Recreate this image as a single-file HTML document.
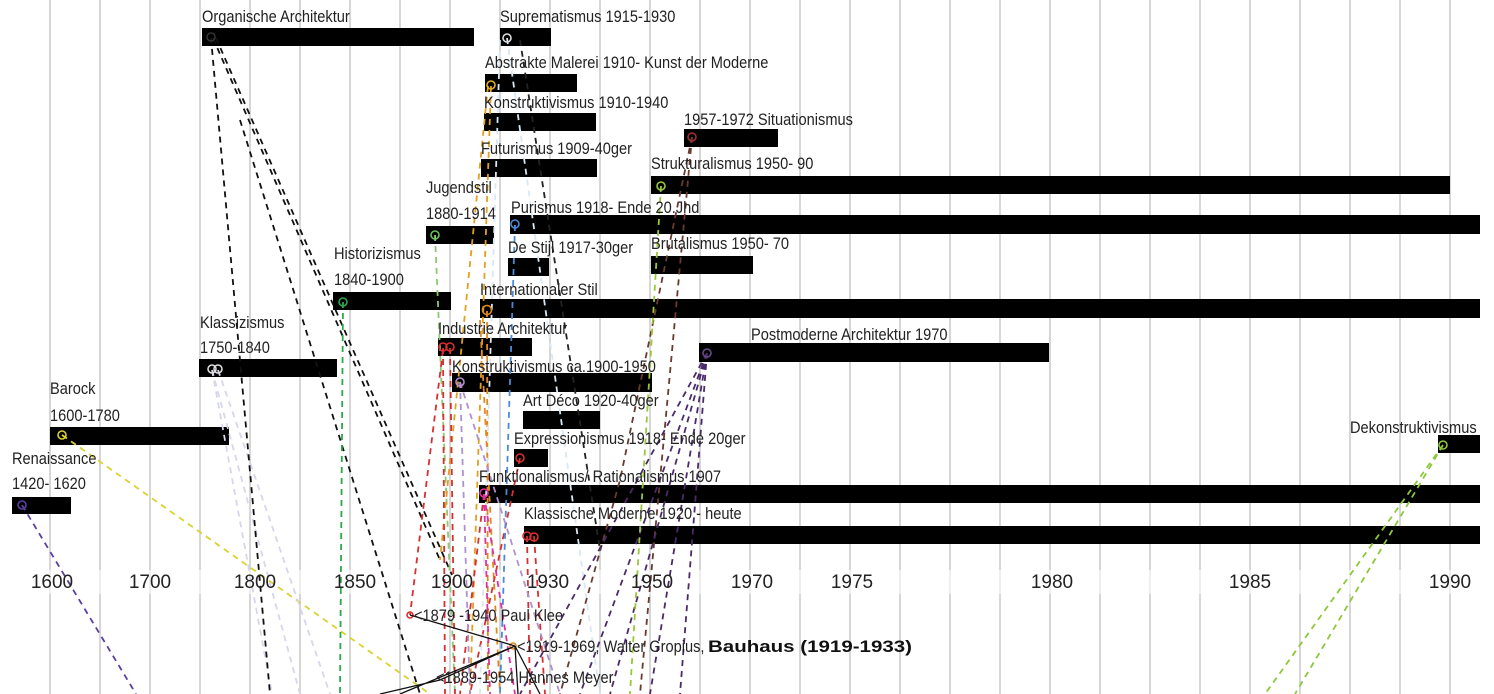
<!DOCTYPE html>
<html><head><meta charset="utf-8"><style>
html,body{margin:0;padding:0;background:#fff;}
svg{display:block;}
.l text{font-family:"Liberation Sans",sans-serif;font-size:17px;fill:#222;}
.ax{font-family:"Liberation Sans","DejaVu Sans",sans-serif;font-size:19px;fill:#222;}
.g{stroke:#c8c8c8;stroke-width:1.5;}
.d{fill:none;stroke-width:1.8;stroke-dasharray:6 5;}
</style></head><body>
<svg width="1494" height="694" viewBox="0 0 1494 694" xmlns="http://www.w3.org/2000/svg">
<rect width="1494" height="694" fill="#fff"/>
<g class="g">
<line x1="50" y1="0" x2="50" y2="694"/><line x1="100" y1="0" x2="100" y2="694"/><line x1="150" y1="0" x2="150" y2="694"/><line x1="200" y1="0" x2="200" y2="694"/><line x1="250" y1="0" x2="250" y2="694"/><line x1="300" y1="0" x2="300" y2="694"/><line x1="350" y1="0" x2="350" y2="694"/><line x1="400" y1="0" x2="400" y2="694"/><line x1="450" y1="0" x2="450" y2="694"/><line x1="500" y1="0" x2="500" y2="694"/><line x1="550" y1="0" x2="550" y2="694"/><line x1="600" y1="0" x2="600" y2="694"/><line x1="650" y1="0" x2="650" y2="694"/><line x1="700" y1="0" x2="700" y2="694"/><line x1="750" y1="0" x2="750" y2="694"/><line x1="800" y1="0" x2="800" y2="694"/><line x1="850" y1="0" x2="850" y2="694"/><line x1="900" y1="0" x2="900" y2="694"/><line x1="950" y1="0" x2="950" y2="694"/><line x1="1000" y1="0" x2="1000" y2="694"/><line x1="1050" y1="0" x2="1050" y2="694"/><line x1="1100" y1="0" x2="1100" y2="694"/><line x1="1150" y1="0" x2="1150" y2="694"/><line x1="1200" y1="0" x2="1200" y2="694"/><line x1="1250" y1="0" x2="1250" y2="694"/><line x1="1300" y1="0" x2="1300" y2="694"/><line x1="1350" y1="0" x2="1350" y2="694"/><line x1="1400" y1="0" x2="1400" y2="694"/><line x1="1450" y1="0" x2="1450" y2="694"/>
</g>
<rect x="20" y="570" width="1460" height="24" fill="#fff" opacity="0.6"/>

<g fill="#000">
<rect x="202" y="28" width="272" height="18"/>
<rect x="500" y="28" width="51" height="18"/>
<rect x="485" y="74" width="92" height="18"/>
<rect x="484" y="113" width="112" height="18"/>
<rect x="684" y="129" width="94" height="18"/>
<rect x="481" y="159" width="116" height="18"/>
<rect x="651" y="176" width="799" height="18"/>
<rect x="426" y="226" width="68" height="18"/>
<rect x="510" y="215" width="970" height="19"/>
<rect x="508" y="258" width="41" height="18"/>
<rect x="651" y="256" width="102" height="18"/>
<rect x="333" y="292" width="118" height="18"/>
<rect x="480" y="299" width="1000" height="19"/>
<rect x="438" y="338" width="94" height="18"/>
<rect x="699" y="343" width="350" height="19"/>
<rect x="199" y="359" width="138" height="18"/>
<rect x="452" y="373" width="200" height="19"/>
<rect x="523" y="411" width="77" height="18"/>
<rect x="50" y="427" width="179" height="18"/>
<rect x="514" y="449" width="34" height="18"/>
<rect x="1438" y="435" width="42" height="18"/>
<rect x="479" y="485" width="1001" height="18"/>
<rect x="12" y="497" width="59" height="17"/>
<rect x="524" y="526" width="956" height="18"/>
</g>

<g class="d">
<path stroke="#5b3fa0" d="M22 505 L136 694"/>
<path stroke="#d9d230" d="M62 435 L430 694"/>
<path stroke="#d6d6ec" d="M212 370 L272 694 M218 370 L330 694 M212 370 L300 694"/>
<path stroke="#111" d="M211 38 L270 694 M213 38 L440 560 M216 38 L452 575 M240 120 L420 694"/>
<path stroke="#2aa84a" d="M343 302 L340 694"/>
<path stroke="#8cc870" d="M435 235 L455 694"/>
<path stroke="#e0a020" d="M491 86 L470 694 M488 86 L440 560"/>
<path stroke="#e08820" d="M487 311 L488 694 M480 320 L500 694"/>
<path stroke="#d83030" d="M443 348 L445 694 M450 348 L455 694 M443 350 L410 615 M520 458 L470 694 M527 536 L530 694 M534 536 L545 694 M484 494 L460 694"/>
<path stroke="#d8e8f4" d="M507 38 L600 694 M500 40 L480 694"/>
<path stroke="#4a8ad8" d="M515 225 L500 694"/>
<path stroke="#b090d0" d="M460 382 L470 694 M460 382 L560 694"/>
<path stroke="#e030a0" d="M484 494 L490 694 M484 494 L515 694"/>
<path stroke="#6a3a30" d="M692 137 L620 480 L560 694 M692 137 L640 694"/>
<path stroke="#4a2a6a" d="M707 353 L520 694 M707 353 L580 694 M707 353 L610 694 M707 353 L650 694 M707 353 L680 694"/>
<path stroke="#9ac83a" d="M661 186 L630 694"/>
<path stroke="#8cc83a" d="M1443 445 L1265 694 M1443 445 L1295 694"/>
<path stroke="#222" d="M520 40 L600 550"/>
</g>

<g fill="none" stroke-width="1.6">
<circle cx="22" cy="505" r="4" stroke="#5b3fa0"/>
<circle cx="62" cy="435" r="4" stroke="#d9d230"/>
<circle cx="212" cy="369" r="4" stroke="#ddd"/><circle cx="218" cy="369" r="4" stroke="#ddd"/>
<circle cx="211" cy="37" r="4" stroke="#333"/>
<circle cx="507" cy="38" r="4" stroke="#ddd"/>
<circle cx="491" cy="85" r="4" stroke="#e0b020"/>
<circle cx="692" cy="137" r="4" stroke="#a03030"/>
<circle cx="661" cy="186" r="4" stroke="#9ac83a"/>
<circle cx="435" cy="235" r="4" stroke="#6ac060"/>
<circle cx="515" cy="224" r="4" stroke="#4a8ad8"/>
<circle cx="343" cy="302" r="4" stroke="#2aa84a"/>
<circle cx="487" cy="310" r="4.5" stroke="#e08820"/>
<circle cx="443" cy="347" r="4" stroke="#d83030"/><circle cx="450" cy="347" r="4" stroke="#d83030"/>
<circle cx="707" cy="353" r="4" stroke="#6a4a8a"/>
<circle cx="460" cy="382" r="4" stroke="#b090d0"/>
<circle cx="520" cy="458" r="4" stroke="#d83030"/>
<circle cx="1443" cy="445" r="4" stroke="#8cc83a"/>
<circle cx="484" cy="493" r="4" stroke="#e030a0"/>
<circle cx="527" cy="536" r="4" stroke="#d83030"/><circle cx="534" cy="537" r="4" stroke="#d83030"/>
<circle cx="410" cy="615" r="3" stroke="#d83030"/>
<circle cx="513" cy="646" r="3" stroke="#e08820"/>
</g>

<g stroke="#111" stroke-width="1.3" fill="none">
<path d="M410 615 L515 646 M515 646 L400 694 M515 646 L440 680 L380 694 M515 646 L518 694 M515 646 L540 694"/>
</g>

<g class="l">
<g transform="translate(202,22) scale(0.86,1)"><text>Organische Architektur</text></g>
<g transform="translate(500,22) scale(0.86,1)"><text>Suprematismus 1915-1930</text></g>
<g transform="translate(485,68) scale(0.86,1)"><text>Abstrakte Malerei 1910- Kunst der Moderne</text></g>
<g transform="translate(484,108) scale(0.86,1)"><text>Konstruktivismus 1910-1940</text></g>
<g transform="translate(684,125) scale(0.86,1)"><text>1957-1972 Situationismus</text></g>
<g transform="translate(481,154) scale(0.86,1)"><text>Futurismus 1909-40ger</text></g>
<g transform="translate(651,169) scale(0.86,1)"><text>Strukturalismus 1950- 90</text></g>
<g transform="translate(426,193) scale(0.86,1)"><text>Jugendstil</text></g>
<g transform="translate(426,219) scale(0.86,1)"><text>1880-1914</text></g>
<g transform="translate(511,213) scale(0.86,1)"><text>Purismus 1918- Ende 20.Jhd</text></g>
<g transform="translate(508,253) scale(0.86,1)"><text>De Stijl 1917-30ger</text></g>
<g transform="translate(651,249) scale(0.86,1)"><text>Brutalismus 1950- 70</text></g>
<g transform="translate(334,259) scale(0.86,1)"><text>Historizismus</text></g>
<g transform="translate(334,285) scale(0.86,1)"><text>1840-1900</text></g>
<g transform="translate(480,295) scale(0.86,1)"><text>Internationaler Stil</text></g>
<g transform="translate(438,334) scale(0.86,1)"><text>Industrie Architektur</text></g>
<g transform="translate(751,340) scale(0.86,1)"><text>Postmoderne Architektur 1970</text></g>
<g transform="translate(200,328) scale(0.86,1)"><text>Klassizismus</text></g>
<g transform="translate(200,353) scale(0.86,1)"><text>1750-1840</text></g>
<g transform="translate(452,372) scale(0.86,1)"><text>Konstruktivismus ca.1900-1950</text></g>
<g transform="translate(523,406) scale(0.86,1)"><text>Art Déco 1920-40ger</text></g>
<g transform="translate(50,394) scale(0.86,1)"><text>Barock</text></g>
<g transform="translate(50,421) scale(0.86,1)"><text>1600-1780</text></g>
<g transform="translate(514,444) scale(0.86,1)"><text>Expressionismus 1918- Ende 20ger</text></g>
<g transform="translate(1350,433) scale(0.86,1)"><text>Dekonstruktivismus</text></g>
<g transform="translate(479,482) scale(0.86,1)"><text>Funktionalismus/ Rationalismus 1907</text></g>
<g transform="translate(12,464) scale(0.86,1)"><text>Renaissance</text></g>
<g transform="translate(12,489) scale(0.86,1)"><text>1420- 1620</text></g>
<g transform="translate(524,519) scale(0.86,1)"><text>Klassische Moderne 1920 - heute</text></g>
<g transform="translate(414,621) scale(0.86,1)"><text>&lt;1879 -1940 Paul Klee</text></g>
<g transform="translate(517,652) scale(0.86,1)"><text>&lt;1919-1969, Walter Gropius,</text></g>
<g transform="translate(436,683) scale(0.86,1)"><text>&lt;1889-1954 Hannes Meyer</text></g>
</g>
<text x="708" y="652" font-family="Liberation Sans, sans-serif" font-weight="bold" font-size="17" fill="#111" textLength="204" lengthAdjust="spacingAndGlyphs">Bauhaus (1919-1933)</text>

<g class="ax" text-anchor="middle">
<text x="52" y="588">1600</text>
<text x="150" y="588">1700</text>
<text x="255" y="588">1800</text>
<text x="355" y="588">1850</text>
<text x="452" y="588">1900</text>
<text x="548" y="588">1930</text>
<text x="652" y="588">1950</text>
<text x="752" y="588">1970</text>
<text x="852" y="588">1975</text>
<text x="1052" y="588">1980</text>
<text x="1250" y="588">1985</text>
<text x="1450" y="588">1990</text>
</g>
</svg>
</body></html>
